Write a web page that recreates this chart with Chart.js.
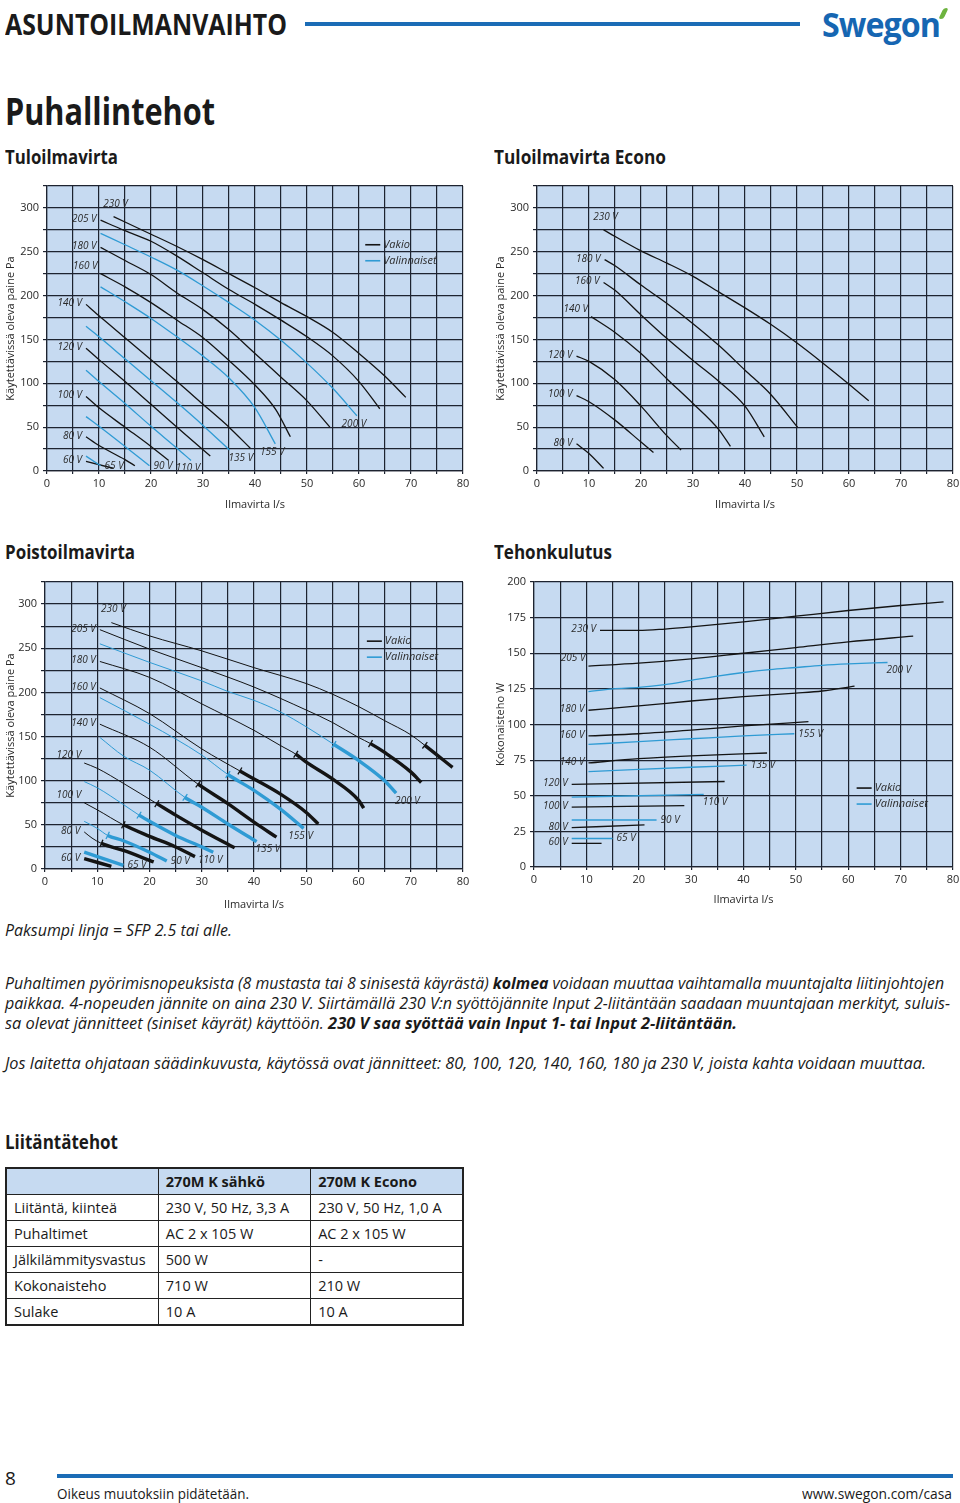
<!DOCTYPE html>
<html lang="fi">
<head>
<meta charset="utf-8">
<title>Puhallintehot</title>
<script src="https://cdn.jsdelivr.net/npm/chart.js@4.4.1/dist/chart.umd.min.js"></script>
<style>
  body { margin: 0; width: 960px; height: 1503px; position: relative; background: #fff;
         font-family: 'Open Sans', 'Noto Sans', sans-serif; color: #1a1a1a; overflow: hidden; }
  .t { position: absolute; white-space: nowrap; display: inline-block; transform-origin: 0 50%; }
  .h2 { font-weight: bold; font-size: 19px; line-height: 24px; }
  .para { font-style: italic; font-size: 16px; line-height: 20px; }
  .bar { position: absolute; background: #1b6cb6; }
  .box { position: absolute; }
  table.spec { position: absolute; left: 5px; top: 1167px; width: 459px; border-collapse: collapse;
               table-layout: fixed; font-size: 14.5px; border: 2px solid #222; }
  table.spec td { border: 1.5px solid #222; height: 25px; padding: 0 7px; white-space: nowrap; }
  table.spec tr:first-child td { background: #c6daf1; font-weight: bold; }
</style>
</head>
<body>

<div class="t" style="left:5px;top:7px;font-size:29px;line-height:34px;font-weight:bold" data-w="282">ASUNTOILMANVAIHTO</div>
<div class="bar" style="left:305px;top:22px;width:495px;height:4px"></div>
<div class="t" style="left:822px;top:4px;font-size:34px;line-height:40px;font-weight:bold;color:#1666b2;letter-spacing:-1px" data-w="118">Swegon</div>
<div style="position:absolute;left:941px;top:8px;width:5px;height:11px;background:#6db33f;border-radius:3px;transform:skewX(-25deg)"></div>

<div class="t" style="left:5px;top:88px;font-size:38px;line-height:44px;font-weight:bold" data-w="210">Puhallintehot</div>
<div class="t h2" style="left:5px;top:145px" data-w="113">Tuloilmavirta</div>
<div class="t h2" style="left:494px;top:145px" data-w="172">Tuloilmavirta Econo</div>
<div class="t h2" style="left:5px;top:540px" data-w="130">Poistoilmavirta</div>
<div class="t h2" style="left:494px;top:540px" data-w="118">Tehonkulutus</div>

<div class="box" style="left:0;top:180px"><canvas id="supply" width="480" height="335"></canvas></div>
<div class="box" style="left:490px;top:180px"><canvas id="econo" width="470" height="335"></canvas></div>
<div class="box" style="left:0;top:570px"><canvas id="exhaust" width="480" height="345"></canvas></div>
<div class="box" style="left:490px;top:570px"><canvas id="power" width="470" height="340"></canvas></div>

<div class="t para" style="left:5px;top:920px" data-w="227">Paksumpi linja = SFP 2.5 tai alle.</div>
<div class="t para" style="left:5px;top:973px" data-w="939">Puhaltimen pyörimisnopeuksista (8 mustasta tai 8 sinisestä käyrästä) <b>kolmea</b> voidaan muuttaa vaihtamalla muuntajalta liitinjohtojen</div>
<div class="t para" style="left:5px;top:993px" data-w="945">paikkaa. 4-nopeuden jännite on aina 230 V. Siirtämällä 230 V:n syöttöjännite Input 2-liitäntään saadaan muuntajaan merkityt, suluis-</div>
<div class="t para" style="left:5px;top:1013px" data-w="732">sa olevat jännitteet (siniset käyrät) käyttöön. <b>230 V saa syöttää vain Input 1- tai Input 2-liitäntään.</b></div>
<div class="t para" style="left:5px;top:1053px" data-w="921">Jos laitetta ohjataan säädinkuvusta, käytössä ovat jännitteet: 80, 100, 120, 140, 160, 180 ja 230 V, joista kahta voidaan muuttaa.</div>

<div class="t h2" style="left:5px;top:1130px" data-w="113">Liitäntätehot</div>
<table class="spec">
  <tr><td></td><td>270M K sähkö</td><td>270M K Econo</td></tr>
  <tr><td>Liitäntä, kiinteä</td><td>230 V, 50 Hz, 3,3 A</td><td>230 V, 50 Hz, 1,0 A</td></tr>
  <tr><td>Puhaltimet</td><td>AC 2 x 105 W</td><td>AC 2 x 105 W</td></tr>
  <tr><td>Jälkilämmitysvastus</td><td>500 W</td><td>-</td></tr>
  <tr><td>Kokonaisteho</td><td>710 W</td><td>210 W</td></tr>
  <tr><td>Sulake</td><td>10 A</td><td>10 A</td></tr>
</table>

<div class="t" style="left:5px;top:1466px;font-size:19px;line-height:24px">8</div>
<div class="bar" style="left:57px;top:1474px;width:896px;height:4px"></div>
<div class="t" style="left:57px;top:1485px;font-size:14.5px;line-height:18px" data-w="192">Oikeus muutoksiin pidätetään.</div>
<div class="t" style="left:802px;top:1485px;font-size:14.5px;line-height:18px" data-w="150">www.swegon.com/casa</div>

<script>
// axis tick labels
const flowTicks = [0, 10, 20, 30, 40, 50, 60, 70, 80];
const pressureTicks = [0, 50, 100, 150, 200, 250, 300];
const powerTicks = [0, 25, 50, 75, 100, 125, 150, 175, 200];
const legendLabels = ['Vakio', 'Valinnaiset'];

// Tuloilmavirta: [l/s, Pa]
const supplyNames = ['230 V', '205 V', '200 V', '180 V', '160 V', '155 V', '140 V', '135 V', '120 V', '110 V', '100 V', '90 V', '80 V', '65 V', '60 V'];
const supplyOptional = [false, false, true, false, false, true, false, true, false, true, false, true, false, true, false];
const supplyLabelAt = ['top', 'left', 'below', 'left', 'upleft', 'below', 'left', 'belowright', 'left', 'below', 'left', 'right', 'left', 'right', 'left'];
const supplyCurves = [
  [[12.8, 290], [20, 270], [25, 256], [30, 241], [35, 225], [40, 209], [45, 192], [50, 176], [55, 158], [60, 134], [65, 108], [69, 84]],
  [[10.3, 286], [15, 274], [20, 262], [25, 245], [30, 226], [35, 207], [40, 190], [45, 172], [50, 153], [55, 131], [60, 102], [64, 71]],
  [[10.3, 271], [15, 258], [20, 244], [25, 229], [30, 211], [35, 192], [40, 172], [45, 149], [50, 123], [55, 94], [59.6, 63]],
  [[10.3, 255], [15, 240], [20, 224], [25, 203], [30, 184], [35, 161], [40, 134], [45, 107], [50, 80], [54.4, 50]],
  [[10.3, 225], [15, 210], [20, 192], [25, 172], [30, 152], [35, 126], [40, 98], [44, 70], [46.8, 39]],
  [[10.3, 210], [15, 193], [20, 174], [25, 153], [30, 131], [35, 106], [40, 72], [43.9, 31]],
  [[7.5, 190], [10, 177], [15, 152], [20, 127], [25, 102], [30, 76], [35, 50], [39.1, 26]],
  [[7.5, 165], [10, 153], [15, 128], [20, 103], [25, 78], [30, 52], [35.1, 24]],
  [[7.5, 140], [10, 127], [15, 102], [20, 76], [25, 50], [31.4, 17]],
  [[7.5, 115], [10, 102], [15, 77], [20, 51], [25, 26], [27.7, 12]],
  [[7.5, 85], [10, 72], [15, 50], [20, 28], [23.4, 12]],
  [[7.5, 62], [10, 51], [15, 28], [19.7, 6]],
  [[7.5, 39], [10, 29], [15, 13], [16.9, 6]],
  [[7.5, 17], [10.3, 6]],
  [[7.5, 11], [12.8, 3]]
];

// Tuloilmavirta Econo: [l/s, Pa]
const econoNames = ['230 V', '180 V', '160 V', '140 V', '120 V', '100 V', '80 V'];
const econoOptional = [false, false, false, false, false, false, false];
const econoLabelAt = ['top', 'left', 'left', 'upleft', 'left', 'left', 'left'];
const econoCurves = [
  [[12.8, 275], [20, 251], [25, 237], [30, 222], [35, 204], [40, 186], [45, 167], [50, 146], [55, 123], [60, 99], [63.8, 80]],
  [[13, 241], [15, 234], [20, 212], [25, 191], [30, 168], [35, 143], [40, 115], [45, 87], [50.1, 50]],
  [[12.8, 215], [15, 206], [20, 178], [25, 151], [30, 126], [35, 102], [40, 74], [43.7, 39]],
  [[10.4, 176], [15, 158], [20, 134], [25, 105], [30, 77], [35, 47], [37.2, 28]],
  [[7.6, 131], [10, 125], [15, 104], [20, 74], [25, 40], [27.7, 24]],
  [[7.6, 86], [10, 79], [15, 58], [20, 33], [22.4, 21]],
  [[7.6, 31], [10, 20], [12.8, 3]]
];

// Poistoilmavirta: [l/s, Pa], thick part (SFP <= 2.5) starts at exhaustThickFrom
const exhaustNames = ['230 V', '205 V', '200 V', '180 V', '160 V', '155 V', '140 V', '135 V', '120 V', '110 V', '100 V', '90 V', '80 V', '65 V', '60 V'];
const exhaustOptional = [false, false, true, false, false, true, false, true, false, true, false, true, false, true, false];
const exhaustLabelAt = ['top', 'left', 'belowright', 'left', 'left', 'below', 'left', 'belowright', 'upleft', 'below', 'upleft', 'right', 'left', 'right', 'left'];
const exhaustThickFrom = [72.7, 62.3, 55.3, 48, 37.3, 35, 29.3, 26.8, 21.4, 18, 15, 12, 10.8, 7.5, 7.5];
const exhaustCurves = [
  [[12.7, 279], [20, 264], [30, 247], [40, 228], [50, 210], [55, 198], [60, 184], [65, 168], [70, 152], [72.7, 140], [78, 115]],
  [[10.5, 271], [20, 249], [30, 228], [40, 206], [50, 180], [55, 166], [60, 149], [62.3, 142], [65, 132], [70, 110], [72, 98]],
  [[10.5, 255], [20, 234], [30, 213], [35, 201], [40, 191], [45, 178], [50, 161], [55.3, 141], [60, 123], [65, 100], [67.2, 86]],
  [[10.5, 235], [20, 217], [30, 187], [40, 157], [45, 140], [48, 130], [50, 121], [55, 102], [60, 78], [61, 69]],
  [[10.5, 205], [20, 176], [30, 136], [37.3, 111], [40, 102], [45, 85], [50, 64], [52.3, 51]],
  [[10.5, 194], [20, 164], [30, 129], [35, 107], [40, 89], [45, 68], [49.5, 46]],
  [[10.5, 164], [20, 138], [29.3, 96], [35, 74], [40, 53], [44.3, 36]],
  [[10.5, 149], [15, 128], [20, 112], [26.8, 81], [30, 70], [35, 51], [40.5, 31]],
  [[7.5, 120], [10, 114], [15, 97], [21.4, 74], [25, 61], [30, 44], [36.3, 24]],
  [[7.5, 99], [10, 92], [15, 73], [18, 61], [20, 54], [25, 38], [30, 25], [32.2, 19]],
  [[7.5, 75], [10, 67], [15, 50], [20, 37], [25, 25], [28.7, 14]],
  [[7.5, 54], [10, 46], [12, 38], [15, 32], [20, 19], [23.3, 9]],
  [[7.5, 42], [9, 35], [10.8, 29], [15, 21], [20.8, 8]],
  [[7.5, 19], [15, 4]],
  [[7.5, 11.7], [12.7, 3]]
];

// Tehonkulutus: [l/s, W]
const powerNames = ['230 V', '205 V', '200 V', '180 V', '160 V', '155 V', '140 V', '135 V', '120 V', '110 V', '100 V', '90 V', '80 V', '65 V', '60 V'];
const powerOptional = [false, false, true, false, false, true, false, true, false, true, false, true, false, true, false];
const powerLabelAt = ['left', 'upleft', 'belowright', 'left', 'left', 'right', 'left', 'right', 'left', 'belowright', 'left', 'right', 'left', 'right', 'left'];
const powerCurves = [
  [[12.6, 166], [20, 166], [25, 167], [30, 168.5], [40, 172], [50, 176], [60, 180], [70, 183.5], [78.2, 186]],
  [[10.4, 141], [20, 143], [30, 146], [40, 150], [50, 154], [60, 158], [72.4, 162]],
  [[10.4, 123], [15, 125], [20, 126], [25, 128], [30, 131], [35, 134], [40, 136.5], [45, 138.5], [50, 140], [55, 141.5], [60, 142.5], [67.5, 143.5]],
  [[10.4, 110], [20, 113], [30, 116.5], [40, 119.5], [50, 122], [55, 123.5], [61.2, 127]],
  [[10.4, 92], [20, 93.5], [30, 96], [40, 99], [52.4, 102]],
  [[10.4, 86], [20, 88], [30, 90], [40, 92], [49.7, 93.5]],
  [[10.4, 73], [20, 76], [30, 78], [44.5, 80]],
  [[10.4, 67], [20, 68.5], [30, 70], [40.6, 71.5]],
  [[7.2, 58], [36.4, 60]],
  [[7.2, 49], [32.4, 51]],
  [[7.2, 42], [28.7, 43]],
  [[7.2, 33], [23.4, 33]],
  [[7.2, 27.6], [21.1, 29.5]],
  [[7.2, 20], [15, 20]],
  [[7.2, 16.6], [12.9, 16.6]]
];

const FONT = "'Open Sans', 'Noto Sans', sans-serif";
const BLACK = '#141414';
const BLUE = '#2f9bd4';
const PLOT_BG = '#c6daf1';
const GRID = '#1d2330';
const TEXT = '#2a2a2a';

// plot background, curve names, SFP marks and the small legend
const decor = {
  id: 'decor',
  beforeDraw(chart) {
    const {ctx, chartArea: a} = chart;
    ctx.save();
    ctx.fillStyle = PLOT_BG;
    ctx.fillRect(a.left, a.top, a.right - a.left, a.bottom - a.top);
    ctx.restore();
  },
  afterDatasetsDraw(chart, args, opts) {
    const {ctx, scales: {x, y}} = chart;
    ctx.save();
    ctx.textBaseline = 'middle';
    chart.data.datasets.forEach(ds => {
      const pts = ds.data, a = pts[0], b = pts[pts.length - 1];
      const ax = x.getPixelForValue(a.x), ay = y.getPixelForValue(a.y);
      const bx = x.getPixelForValue(b.x), by = y.getPixelForValue(b.y);
      const spot = {
        top: [ax + 2, ay - 13, 'center'],
        left: [ax - 4, ay - 1, 'right'],
        upleft: [ax - 3, ay - 8, 'right'],
        below: [bx - 3, by + 8, 'center'],
        belowright: [bx - 1, by + 8, 'left'],
        right: [bx + 4, by, 'left']
      }[ds.labelAt];
      ctx.font = `italic 10px ${FONT}`;
      ctx.fillStyle = TEXT;
      ctx.textAlign = spot[2];
      ctx.fillText(ds.label, spot[0], spot[1]);

      if (ds.thickFrom != null && ds.thickFrom > a.x) {
        const i = pts.findIndex(p => p.x === ds.thickFrom);
        const p0 = pts[i - 1], p1 = pts[i + 1] || pts[i];
        const dx = x.getPixelForValue(p1.x) - x.getPixelForValue(p0.x);
        const dy = y.getPixelForValue(p1.y) - y.getPixelForValue(p0.y);
        const len = Math.hypot(dx, dy);
        const nx = -dy / len * 4, ny = dx / len * 4;
        const cx = x.getPixelForValue(pts[i].x), cy = y.getPixelForValue(pts[i].y);
        ctx.strokeStyle = ds.borderColor;
        ctx.lineWidth = 1.3;
        ctx.beginPath();
        ctx.moveTo(cx - nx, cy - ny);
        ctx.lineTo(cx + nx, cy + ny);
        ctx.stroke();
      }
    });

    if (opts.legend) {
      const lx = x.getPixelForValue(opts.legend.x), ly = y.getPixelForValue(opts.legend.y);
      ctx.font = `italic 11px ${FONT}`;
      ctx.textAlign = 'left';
      [BLACK, BLUE].forEach((c, k) => {
        const yy = ly + k * 16;
        ctx.strokeStyle = c;
        ctx.lineWidth = 1.6;
        ctx.beginPath();
        ctx.moveTo(lx, yy);
        ctx.lineTo(lx + 15, yy);
        ctx.stroke();
        ctx.fillStyle = TEXT;
        ctx.fillText(legendLabels[k], lx + 18, yy);
      });
    }
    ctx.restore();
  }
};

function drawChart(id, names, curves, optional, labelAt, cfg) {
  const canvas = document.getElementById(id);
  const W = canvas.width, H = canvas.height, p = cfg.plot;
  const thick = cfg.thickFrom;
  const datasets = names.map((n, i) => ({
    label: n,
    data: curves[i].map(([x, y]) => ({x, y})),
    borderColor: optional[i] ? BLUE : BLACK,
    borderWidth: thick ? 1 : 1.3,
    pointRadius: 0,
    cubicInterpolationMode: 'monotone',
    labelAt: labelAt[i],
    thickFrom: thick ? thick[i] : null,
    segment: thick ? {borderWidth: c => c.p0.parsed.x >= thick[i] - 1e-6 ? 3.4 : 1} : undefined
  }));
  const tickFont = {size: 11, family: FONT};
  return new Chart(canvas, {
    type: 'line',
    data: {datasets},
    plugins: [decor],
    options: {
      responsive: false,
      animation: false,
      layout: {padding: {left: 0, top: p.top, right: W - p.right, bottom: 0}},
      plugins: {
        legend: {display: false},
        tooltip: {enabled: false},
        decor: {legend: cfg.legend}
      },
      scales: {
        x: {
          type: 'linear', min: 0, max: 80,
          afterFit: s => { s.height = H - p.bottom; s.paddingLeft = 0; s.paddingRight = 0; },
          ticks: {stepSize: 5, autoSkip: false, maxRotation: 0, padding: 3, color: TEXT, font: tickFont,
                  callback: v => flowTicks.includes(v) ? v : ''},
          grid: {color: GRID, lineWidth: 1.2, tickLength: 3},
          border: {color: GRID, width: 1.2},
          title: {display: true, text: 'Ilmavirta l/s', color: TEXT, font: tickFont, padding: {top: 4, bottom: 4}}
        },
        y: {
          type: 'linear', min: 0, max: cfg.yMax,
          afterFit: s => { s.width = p.left; s.paddingTop = 0; s.paddingBottom = 0; },
          ticks: {stepSize: 25, autoSkip: false, padding: 4, color: TEXT, font: tickFont,
                  callback: v => cfg.yTicks.includes(v) ? v : ''},
          grid: {color: GRID, lineWidth: 1.2, tickLength: 4},
          border: {color: GRID, width: 1.2},
          title: {display: true, text: cfg.yTitle, color: TEXT, font: tickFont, padding: {top: 4, bottom: 4}}
        }
      }
    }
  });
}

const pressureTitle = 'Käytettävissä oleva paine Pa';

drawChart('supply', supplyNames, supplyCurves, supplyOptional, supplyLabelAt, {
  yMax: 325, yTicks: pressureTicks, yTitle: pressureTitle,
  plot: {left: 47, top: 6, right: 463, bottom: 291},
  legend: {x: 61.2, y: 258}
});
drawChart('econo', econoNames, econoCurves, econoOptional, econoLabelAt, {
  yMax: 325, yTicks: pressureTicks, yTitle: pressureTitle,
  plot: {left: 47, top: 6, right: 463, bottom: 291}
});
drawChart('exhaust', exhaustNames, exhaustCurves, exhaustOptional, exhaustLabelAt, {
  yMax: 325, yTicks: pressureTicks, yTitle: pressureTitle,
  plot: {left: 45, top: 12, right: 463, bottom: 299},
  legend: {x: 61.6, y: 258},
  thickFrom: exhaustThickFrom
});
drawChart('power', powerNames, powerCurves, powerOptional, powerLabelAt, {
  yMax: 200, yTicks: powerTicks, yTitle: 'Kokonaisteho W',
  plot: {left: 44, top: 12, right: 463, bottom: 297},
  legend: {x: 61.6, y: 55.4}
});

// squeeze the page texts to the widths of the printed original
document.fonts.ready.then(() => {
  document.querySelectorAll('[data-w]').forEach(el => {
    const w = el.getBoundingClientRect().width;
    el.style.transform = `scaleX(${(+el.dataset.w / w).toFixed(4)})`;
  });
});
</script>
</body>
</html>
